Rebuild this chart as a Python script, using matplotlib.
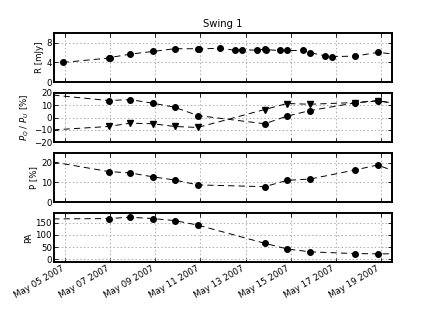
import datetime as dt
import matplotlib
matplotlib.use('Agg')
import matplotlib.pyplot as plt
import matplotlib.dates as mdates

# ── Data (day of May 2007, fractional) ─────────
r_days = [4.88, 6.92, 6.97, 7.88, 8.89, 9.85, 10.88, 10.93, 11.86, 12.52, 12.86,
          13.52, 13.85, 13.90, 14.53, 14.84, 15.54, 15.87, 16.54, 16.85, 17.86,
          18.86, 19.90]
r_flux = [4.0, 4.9, 5.0, 5.7, 6.25, 6.8, 6.8, 6.75, 6.9, 6.5, 6.6,
          6.5, 6.7, 6.6, 6.45, 6.45, 6.45, 6.0, 5.35, 5.2, 5.3,
          6.05, 5.6]

pol_days = [4.0, 6.92, 7.88, 8.89, 9.85, 10.88, 13.85, 14.84, 15.87, 17.86, 18.86, 20.0]
p_q = [19.1, 13.8, 14.6, 11.6, 8.4, 1.6, -5.1, 1.1, 5.7, 11.9, 13.5, 10.5]
p_u = [-10.6, -7.3, -4.6, -5.1, -7.3, -8.1, 6.5, 11.4, 10.8, 12.2, 13.8, 10.4]
p_tot = [21.3, 15.5, 14.8, 12.8, 11.2, 8.7, 7.8, 11.0, 11.7, 16.3, 18.8, 14.1]
pa = [165, 166.5, 172, 166.5, 158.5, 140, 66, 43, 31, 24, 23, 23]


def to_dates(days):
    base = dt.datetime(2007, 5, 1)
    return [base + dt.timedelta(days=d - 1) for d in days]


plt.rcParams['font.family'] = 'DejaVu Sans'
plt.rcParams['font.size'] = 6.2
plt.rcParams['lines.scale_dashes'] = False

fig, axes = plt.subplots(4, 1, figsize=(4.36, 3.27), dpi=100, sharex=True)
fig.subplots_adjust(left=0.124, right=0.899, top=0.899, bottom=0.199, hspace=0.22)

style = dict(color='black', linestyle='--', dashes=(4.5, 3), linewidth=0.7, markersize=4)

ax1, ax2, ax3, ax4 = axes
ax1.plot(to_dates(r_days), r_flux, marker='o', **style)
ax1.set_ylim(0, 10)
ax1.set_yticks([0, 4, 8])
ax1.set_ylabel('R [mJy]')
ax1.set_title('Swing 1', fontsize=7.2, pad=4)

ax2.plot(to_dates(pol_days), p_q, marker='o', **style)
ax2.plot(to_dates(pol_days), p_u, marker='v', **style)
ax2.set_ylim(-20, 20)
ax2.set_yticks([-20, -10, 0, 10, 20])
ax2.set_ylabel('$P_Q$ / $P_U$ [%]')

ax3.plot(to_dates(pol_days), p_tot, marker='o', **style)
ax3.set_ylim(0, 25)
ax3.set_yticks([0, 10, 20])
ax3.set_ylabel('P [%]')

ax4.plot(to_dates(pol_days), pa, marker='o', **style)
ax4.set_ylim(-10, 190)
ax4.set_yticks([0, 50, 100, 150])
ax4.set_ylabel('PA')

for ax in axes:
    ax.set_xlim(dt.datetime(2007, 5, 4, 12), dt.datetime(2007, 5, 19, 12))
    ax.grid(True, color='#aaaaaa', linestyle=':', linewidth=0.7)
    for s in ax.spines.values():
        s.set_linewidth(1.4)
    ax.tick_params(direction='in', length=3, width=0.6, top=True, right=True, pad=1.5)
    ax.yaxis.labelpad = 2

ax4.xaxis.set_major_locator(mdates.DayLocator(bymonthday=range(5, 20, 2)))
ax4.xaxis.set_major_formatter(mdates.DateFormatter('%b %d %Y'))
plt.setp(ax4.get_xticklabels(), rotation=30, ha='right')

fig.savefig('out.png', dpi=100)
